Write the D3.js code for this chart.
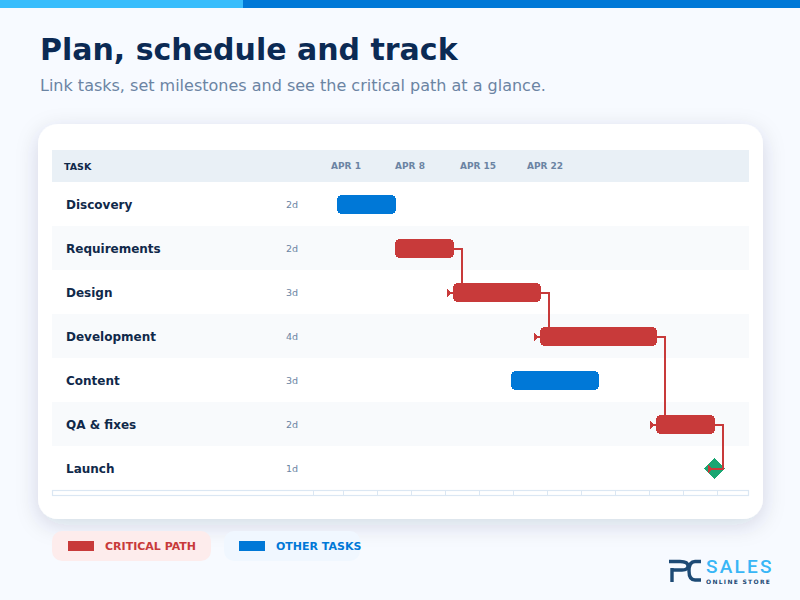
<!DOCTYPE html>
<html>
<head>
<meta charset="utf-8">
<script src="https://cdnjs.cloudflare.com/ajax/libs/d3/7.8.5/d3.min.js"></script>
<style>
html, body { margin: 0; padding: 0; background: #f7faff; }
svg { display: block; font-family: "DejaVu Sans", sans-serif; }
</style>
</head>
<body>
<div id="chart"></div>
<script>
// chart values
var tasks = ["Discovery", "Requirements", "Design", "Development", "Content", "QA & fixes", "Launch"];
var durations = ["2d", "2d", "3d", "4d", "3d", "2d", "1d"];
var startUnits = [0, 2, 4, 7, 6, 11, 13];
var spanUnits = [2, 2, 3, 4, 3, 2, 0];
var critical = [false, true, true, true, false, true, true];
var links = [[1, 2], [2, 3], [3, 5], [5, 6]];
var tickDays = [1, 8, 15, 22];
var tickLabels = ["APR 1", "APR 8", "APR 15", "APR 22"];
var gridUnits = [0, 1, 2, 3, 4, 5, 6, 7, 8, 9, 10, 11];

var RED = "#c83a3a", BLUE = "#0078d7", GREEN = "#1aa672";
var NAVY = "#0b2a54", INK = "#10294a", MUTED = "#6b84a3";

var svg = d3.select("#chart").append("svg").attr("width", 800).attr("height", 600);

var defs = svg.append("defs");
var shadow = defs.append("filter").attr("id", "cardShadow")
    .attr("x", "-10%").attr("y", "-15%").attr("width", "120%").attr("height", "130%");
shadow.append("feDropShadow").attr("dx", 0).attr("dy", 6).attr("stdDeviation", 11)
    .attr("flood-color", "#0b2a54").attr("flood-opacity", 0.15);

svg.append("rect").attr("width", 800).attr("height", 600).attr("fill", "#f7faff");

// top accent
svg.append("rect").attr("width", 800).attr("height", 8).attr("fill", BLUE);
svg.append("rect").attr("width", 243).attr("height", 8).attr("fill", "#38bdfc");

// heading
svg.append("text").attr("x", 40).attr("y", 60).text("Plan, schedule and track")
    .attr("font-size", 30).attr("font-weight", 700).attr("fill", NAVY);
svg.append("text").attr("x", 40).attr("y", 91).text("Link tasks, set milestones and see the critical path at a glance.")
    .attr("font-size", 16).attr("fill", MUTED);

// card
svg.append("rect").attr("x", 38).attr("y", 124).attr("width", 725).attr("height", 395)
    .attr("rx", 20).attr("fill", "#fff").attr("filter", "url(#cardShadow)");

// scales
var rowY = d3.scaleBand().domain(d3.range(tasks.length)).range([182, 490]);
var x = d3.scaleLinear().domain([0, 1]).range([337, 366]);
var tickX = d3.scaleLinear().domain(tickDays).range([346, 410, 478, 545]);
var gridX = d3.scaleLinear().domain([0, 1]).range([343, 377]);
var barH = 19;

// header
svg.append("rect").attr("x", 52).attr("y", 150).attr("width", 697).attr("height", 32).attr("fill", "#e9f0f6");
svg.append("text").attr("x", 64).attr("y", 170).text("TASK")
    .attr("font-size", 9.5).attr("font-weight", 700).attr("fill", INK);

svg.append("g").selectAll("text").data(tickDays).enter().append("text")
    .attr("x", d => tickX(d))
    .attr("y", 169)
    .attr("text-anchor", "middle")
    .attr("font-size", 9).attr("font-weight", 700).attr("fill", MUTED)
    .text((d, i) => tickLabels[i]);

// rows
svg.append("g").selectAll("rect").data(d3.range(tasks.length).filter(i => i % 2 == 1)).enter().append("rect")
    .attr("x", 52).attr("width", 697)
    .attr("y", i => rowY(i)).attr("height", rowY.bandwidth())
    .attr("fill", "#f8fafc");

var labels = svg.append("g").selectAll("g").data(tasks).enter().append("g");
labels.append("text")
    .attr("x", 66)
    .attr("y", (d, i) => rowY(i) + 27)
    .attr("font-size", 12).attr("font-weight", 700).attr("fill", INK)
    .text(d => d);
labels.append("text")
    .attr("x", 286)
    .attr("y", (d, i) => rowY(i) + 26)
    .attr("font-size", 9.5).attr("fill", MUTED)
    .text((d, i) => durations[i]);

function rowMid(i) { return rowY(i) + rowY.bandwidth() / 2 + 0.5; }
function linkY(i) { return rowY(i) + rowY.bandwidth() / 2 + 1; }

// milestone goes under the links
var last = tasks.length - 1;
svg.append("path")
    .attr("d", d3.symbol().type(d3.symbolSquare).size(220)())
    .attr("transform", "translate(" + (x(startUnits[last]) + 0.5) + "," + rowMid(last) + ") rotate(45)")
    .attr("fill", GREEN)
    .attr("shape-rendering", "crispEdges");

// links between critical tasks
var linkG = svg.append("g").attr("shape-rendering", "crispEdges");
linkG.selectAll("path.link").data(links).enter().append("path")
    .attr("class", "link")
    .attr("fill", "none").attr("stroke", RED).attr("stroke-width", 2)
    .attr("d", function(d) {
        var endX = x(startUnits[d[0]] + spanUnits[d[0]]) + 1;
        var path = d3.path();
        path.moveTo(endX, linkY(d[0]));
        path.lineTo(endX + 8, linkY(d[0]));
        path.lineTo(endX + 8, linkY(d[1]));
        path.lineTo(x(startUnits[d[1]]) - 4, linkY(d[1]));
        return path.toString();
    });
linkG.selectAll("path.head").data(links).enter().append("path")
    .attr("class", "head")
    .attr("fill", RED)
    .attr("d", function(d) {
        var tx = x(startUnits[d[1]]), ty = linkY(d[1]);
        return "M" + (tx - 6) + "," + (ty - 4) + "L" + (tx - 1) + "," + ty + "L" + (tx - 6) + "," + (ty + 4) + "Z";
    });

// bars
svg.append("g").attr("shape-rendering", "crispEdges")
    .selectAll("rect").data(d3.range(tasks.length).filter(i => spanUnits[i] > 0)).enter().append("rect")
    .attr("x", i => x(startUnits[i]))
    .attr("y", i => rowMid(i) - barH / 2)
    .attr("width", i => x(startUnits[i] + spanUnits[i]) - x(startUnits[i]) + 1)
    .attr("height", barH)
    .attr("rx", 5)
    .attr("fill", i => critical[i] ? RED : BLUE);

// strip under the rows
var strip = svg.append("g").attr("stroke", "#dbe7f3").attr("fill", "none");
strip.append("rect").attr("x", 52.5).attr("y", 490.5).attr("width", 696).attr("height", 5).attr("stroke-width", 1.2);
strip.append("line").attr("x1", 313.5).attr("x2", 313.5).attr("y1", 490).attr("y2", 496);
strip.selectAll("line.grid").data(gridUnits).enter().append("line")
    .attr("class", "grid")
    .attr("x1", d => gridX(d) + 0.5).attr("x2", d => gridX(d) + 0.5)
    .attr("y1", 490).attr("y2", 496);

// legend
var legend = svg.append("g");
legend.append("rect").attr("x", 52).attr("y", 531).attr("width", 159).attr("height", 30).attr("rx", 10).attr("fill", "#fdecec");
legend.append("rect").attr("x", 68).attr("y", 541).attr("width", 26).attr("height", 10).attr("fill", RED);
legend.append("text").attr("x", 105).attr("y", 550).text("CRITICAL PATH")
    .attr("font-size", 11).attr("font-weight", 700).attr("fill", RED);
legend.append("rect").attr("x", 224).attr("y", 531).attr("width", 136).attr("height", 30).attr("rx", 10).attr("fill", "#f0f7ff");
legend.append("rect").attr("x", 239).attr("y", 541).attr("width", 26).attr("height", 10).attr("fill", BLUE);
legend.append("text").attr("x", 276).attr("y", 550).text("OTHER TASKS")
    .attr("font-size", 11).attr("font-weight", 700).attr("fill", BLUE);

// logo
var logo = svg.append("g").attr("fill", "none").attr("stroke", "#1d4a75").attr("stroke-width", 3.4);
logo.append("path").attr("d", "M669,561.5H680Q688,561.5 688,566Q688,570 682,570H672M672,568V582");
logo.append("path").attr("d", "M701,561.5H695Q689,561.5 689,571Q689,580 695,580H701");
logo.append("text").attr("x", 706).attr("y", 573).text("SALES")
    .attr("stroke", "none").attr("fill", "#38b6f6")
    .attr("font-family", "Roboto").attr("font-size", 19).attr("font-weight", 500).attr("letter-spacing", 2.2);
logo.append("text").attr("x", 706).attr("y", 583.5).text("ONLINE STORE")
    .attr("stroke", "none").attr("fill", "#1d4a75")
    .attr("font-size", 6).attr("font-weight", 700).attr("letter-spacing", 1.3);
</script>
</body>
</html>
